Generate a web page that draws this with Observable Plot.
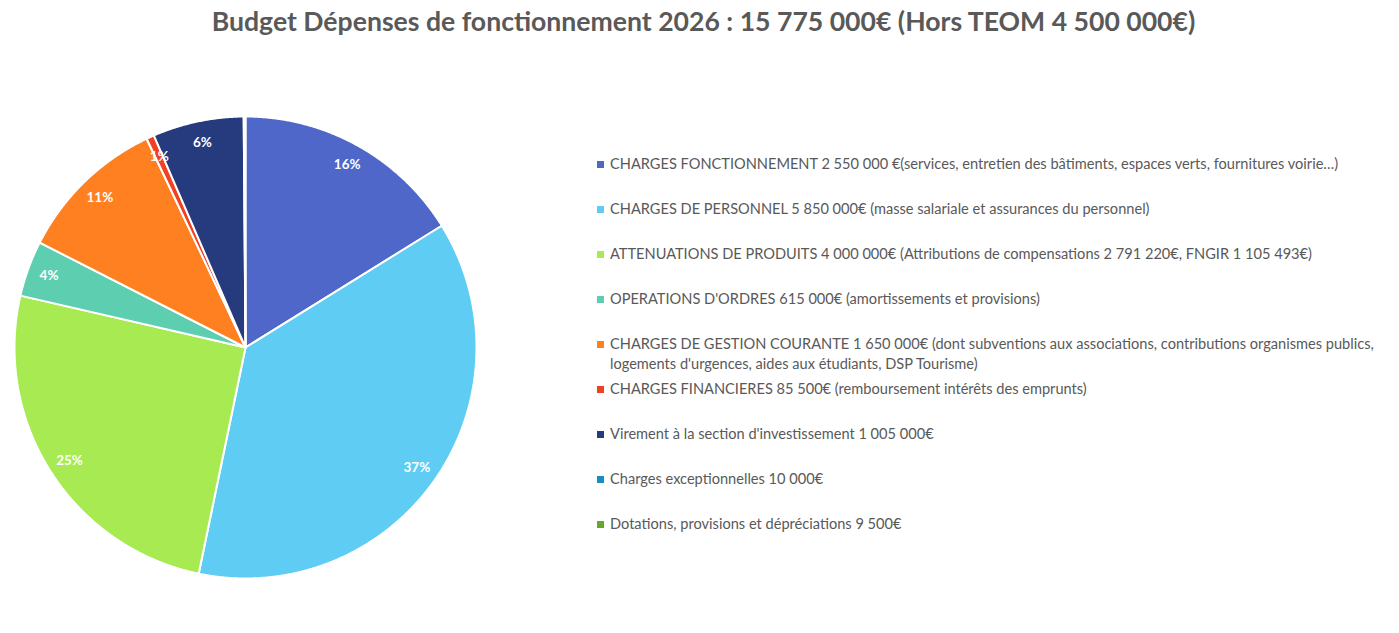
<!DOCTYPE html>
<html>
<head>
<meta charset="utf-8">
<script src="https://cdn.jsdelivr.net/npm/d3@7"></script>
<script src="https://cdn.jsdelivr.net/npm/@observablehq/plot@0.6"></script>
<style>
  body { margin: 0; background: #fff; width: 1399px; height: 633px; overflow: hidden; position: relative; font-family: Lato, "Open Sans", sans-serif; }
  #title { position: absolute; left: 0; width: 1399px; top: 5px; text-align: center; font-weight: bold; font-size: 26.6px; color: #595959; padding-left: 8px; box-sizing: border-box; }
  #pie { position: absolute; left: 0; top: 102px; }
  #legend { position: absolute; left: 597px; top: 0; }
  .item { position: absolute; left: 0; width: 790px; display: flex; align-items: flex-start; white-space: pre-line; font-size: 14.6px; line-height: 20px; color: #595959; }
  .sw { width: 7px; height: 7px; margin-top: 7px; margin-right: 6px; flex: none; }
</style>
</head>
<body>
<div id="title">Budget Dépenses de fonctionnement 2026 : 15 775 000€ (Hors TEOM 4 500 000€)</div>
<div id="pie"></div>
<div id="legend"></div>
<script>
const categories = [
  "CHARGES FONCTIONNEMENT 2 550 000 €(services, entretien des bâtiments, espaces verts, fournitures voirie…)",
  "CHARGES DE PERSONNEL 5 850 000€ (masse salariale et assurances du personnel)",
  "ATTENUATIONS DE PRODUITS 4 000 000€ (Attributions de compensations 2 791 220€, FNGIR 1 105 493€)",
  "OPERATIONS D'ORDRES 615 000€ (amortissements et provisions)",
  "CHARGES DE GESTION COURANTE 1 650 000€ (dont subventions aux associations, contributions organismes publics,\nlogements d'urgences, aides aux étudiants, DSP Tourisme)",
  "CHARGES FINANCIERES 85 500€ (remboursement intérêts des emprunts)",
  "Virement à la section d'investissement 1 005 000€",
  "Charges exceptionnelles 10 000€",
  "Dotations, provisions et dépréciations 9 500€"
];
const values = [2550000, 5850000, 4000000, 615000, 1650000, 85500, 1005000, 10000, 9500];
const percentLabels = ["16%", "37%", "25%", "4%", "11%", "1%", "6%", "", ""];
const colors = ["#4E67C8", "#5ECCF3", "#A7EA52", "#5DCEAF", "#FF8021", "#F14124", "#263A7E", "#1590BE", "#64A82C"];

const arcs = d3.pie().sort(null).value(d => d)(values);
const pts = [];
arcs.forEach((a, i) => {
  pts.push({k: i, x: 0, y: 0});
  const n = Math.max(2, Math.ceil((a.endAngle - a.startAngle) / 0.005));
  for (let j = 0; j <= n; j++) {
    const t = a.startAngle + (a.endAngle - a.startAngle) * j / n;
    pts.push({k: i, x: Math.sin(t), y: Math.cos(t)});
  }
  pts.push({k: i, x: 0, y: 0});
});
const labelR = 0.905;
const labels = arcs.map((a, i) => {
  const m = (a.startAngle + a.endAngle) / 2;
  return {x: labelR * Math.sin(m), y: labelR * Math.cos(m), t: percentLabels[i]};
});

const chart = Plot.plot({
  width: 490, height: 490,
  margin: 14,
  x: {domain: [-1, 1], axis: null},
  y: {domain: [-1, 1], axis: null},
  color: {domain: d3.range(values.length), range: colors},
  marks: [
    Plot.line(pts, {x: "x", y: "y", z: "k", fill: "k", stroke: "white", strokeWidth: 2, strokeLinejoin: "round", curve: "linear"}),
    Plot.text(labels, {x: "x", y: "y", text: "t", fill: "white", fontWeight: "bold", fontSize: 13.5, fontFamily: "Lato, sans-serif"})
  ]
});
document.getElementById("pie").appendChild(chart);

const legend = document.getElementById("legend");
categories.forEach((c, i) => {
  const it = document.createElement("div");
  it.className = "item";
  it.style.top = (154 + i * 45) + "px";
  const sw = document.createElement("div");
  sw.className = "sw";
  sw.style.background = colors[i];
  const tx = document.createElement("div");
  tx.textContent = c;
  it.appendChild(sw); it.appendChild(tx);
  legend.appendChild(it);
});
</script>
</body>
</html>
